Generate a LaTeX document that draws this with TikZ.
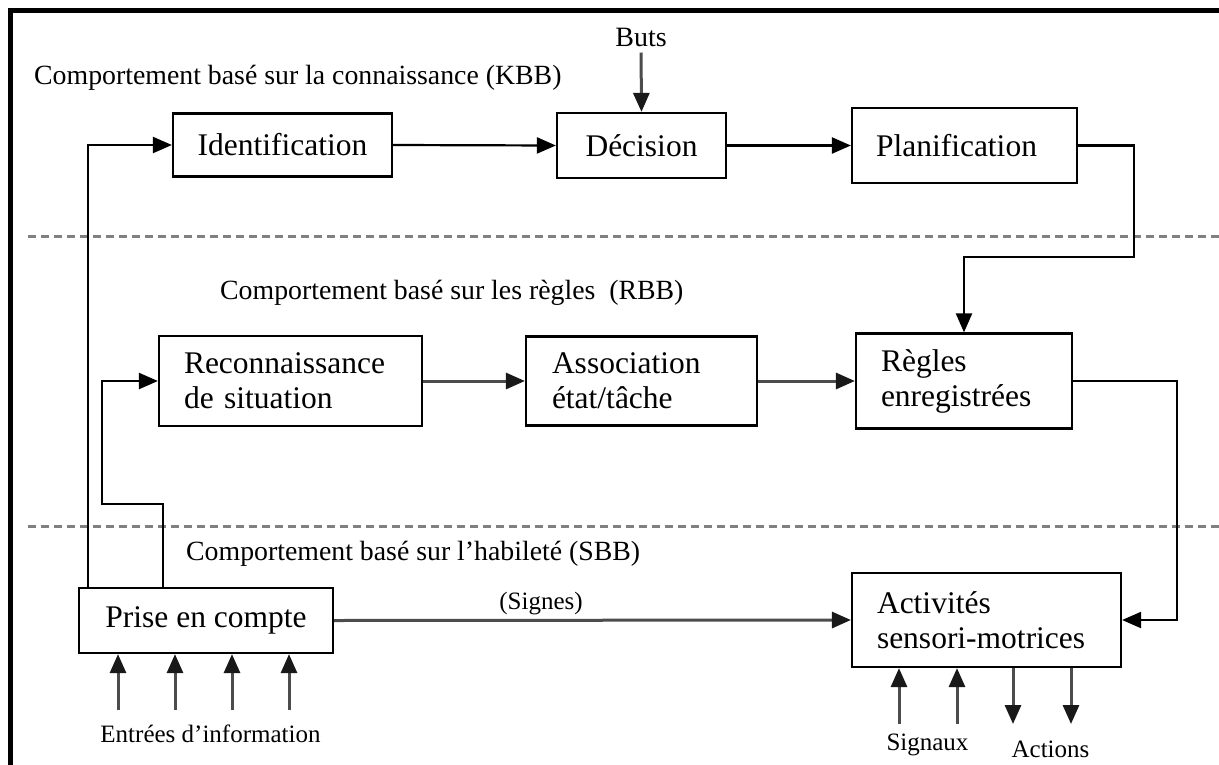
\documentclass[tikz,border=0pt]{standalone}
\usepackage{fontspec}
\setmainfont{Liberation Serif}
\usetikzlibrary{arrows.meta,calc}
\newcommand\boxfont{\fontsize{31.5}{35}\selectfont}
\newcommand\lblfont{\fontsize{27.8}{32}\selectfont}
\newcommand\smlfont{\fontsize{25}{28}\selectfont}
\begin{document}
\begin{tikzpicture}[x=1pt,y=-1pt,
  box/.style={draw,line width=2.2pt,inner sep=0pt,font=\boxfont,align=center},
  lbox/.style={box,align=left},
  lbl/.style={inner sep=0pt,font=\lblfont,anchor=west},
  sml/.style={inner sep=0pt,font=\smlfont},
  arr/.style={line width=2.2pt,-{Triangle[length=19pt,width=16pt]}},
  garr/.style={line width=3pt,draw=black!70,-{Triangle[length=19pt,width=16pt,color=black!90,fill=black!90]}},
  sepline/.style={line width=3pt,draw=black!50,dash pattern=on 8pt off 5pt}]
\useasboundingbox (0,0) rectangle (1219,764);
\fill[white] (-6,-6) rectangle (1225,770);
% frame (top and left)
\fill[black] (8,8) rectangle (13,770);
\fill[black] (8,8) rectangle (1212,12.5);
\fill[black] (1211,8) rectangle (1225,12.5);
% separators
\draw[sepline] (28,236) -- (1222,236);
\draw[sepline] (28,526) -- (1222,526);
% level labels
\node[lbl] (kbb) at (34,78) {Comportement basé sur la connaissance (KBB)};
\node[lbl] (rbb) at (220,293) {Comportement basé sur les règles\ \ (RBB)};
\node[lbl] (sbb) at (186,554) {Comportement basé sur l’habileté (SBB)};
% boxes
\node[box,minimum width=219pt,minimum height=63pt] (id) at (282.5,145) {Identification};
\node[box,minimum width=169pt,minimum height=65pt] (dec) at (641.5,145.5) {Décision};
\node[lbox,minimum width=225pt,minimum height=75pt,text width=177pt] (plan) at (964.5,145.5) {Planification\\[8pt]};
\node[lbox,minimum width=263pt,minimum height=90pt,text width=213pt] (rec) at (290.5,381) {Reconnaissance\\de situation};
\node[lbox,minimum width=231pt,minimum height=89pt,text width=179pt] (ass) at (641.5,381) {Association\\état/tâche};
\node[lbox,minimum width=216pt,minimum height=95pt,text width=166pt] (reg) at (964,381) {Règles\\enregistrées};
\node[box,minimum width=254pt,minimum height=65pt] (prise) at (206,620.5) {Prise en compte};
\node[lbox,minimum width=269pt,minimum height=94pt,text width=219pt] (act) at (986.5,620) {Activités\\sensori-motrices};
% other texts
\node[sml,font=\fontsize{28}{30}\selectfont] (buts) at (641,37) {Buts};
\node[sml] (signes) at (541,604) {(Signes)};
\node[sml] (entrees) at (210.5,734) {Entrées d’information};
\node[sml] (signaux) at (927.5,745) {Signaux};
\node[sml] (actions) at (1050.5,749) {Actions};
% connectors
\draw[garr,shorten <=6pt] (buts.south) -- (dec.north);
\draw[arr] (id.east) -- (dec.west);
\draw[arr] (dec.east) -- (plan.west);
\draw[arr] (plan.east) -- ++(55.5,0) -- ++(0,111.5) -| (reg.north);
\draw[garr] (rec.east) -- (ass.west);
\draw[garr] (ass.east) -- (reg.west);
\draw[arr] (reg.east) -- ++(104,0) |- (act.east);
\draw[arr] ([xshift=10pt]prise.north west) |- (id.west);
\draw[arr] ([xshift=85pt]prise.north west) -- ++(0,-83) -- ++(-61,0) |- (rec.west);
\draw[garr] (prise.east) -- (act.west);
% inputs under Prise en compte
\coordinate (in1) at (118,710);
\coordinate (in2) at (175,710);
\coordinate (in3) at (232,710);
\coordinate (in4) at (289,710);
\foreach \c in {in1,in2,in3,in4} \draw[garr] (\c) -- (\c |- prise.south);
% signals and actions
\coordinate (sg1) at (899,724);
\coordinate (sg2) at (957,724);
\coordinate (ac1) at (1013,724);
\coordinate (ac2) at (1071,724);
\foreach \c in {sg1,sg2} \draw[garr] (\c) -- (\c |- act.south);
\foreach \c in {ac1,ac2} \draw[garr] (\c |- act.south) -- (\c);
\end{tikzpicture}
\end{document}
